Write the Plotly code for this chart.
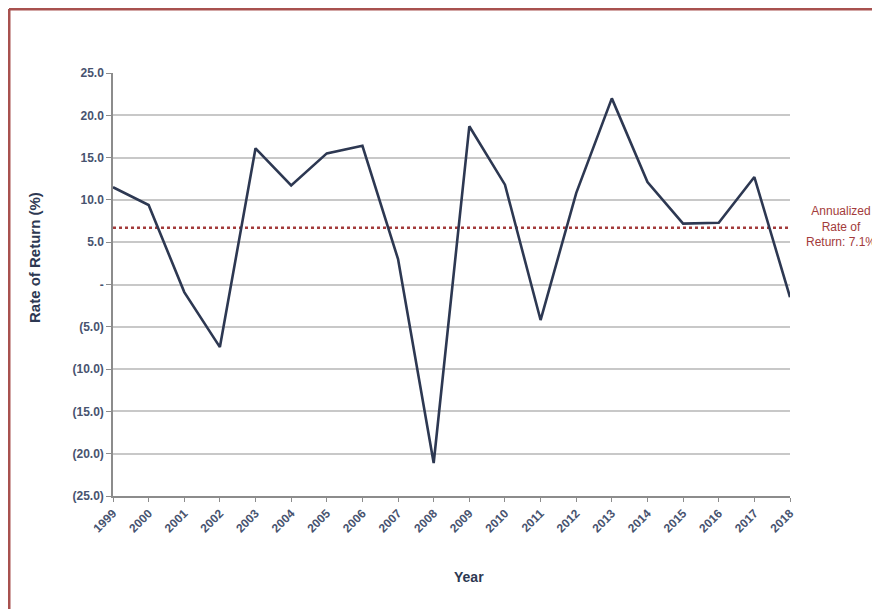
import plotly.graph_objects as go

years = [str(y) for y in range(1999, 2019)]
returns = [11.5, 9.4, -0.9, -7.4, 16.1, 11.7, 15.5, 16.4, 3.0, -21.1,
           18.7, 11.8, -4.2, 10.8, 22.0, 12.1, 7.2, 7.3, 12.7, -1.5]
annualized_level = 6.7
annualized_label = "Annualized<br>Rate of<br>Return: 7.1%"
ytick_vals = [25, 20, 15, 10, 5, 0, -5, -10, -15, -20, -25]
ytick_text = ["25.0", "20.0", "15.0", "10.0", "5.0", "-", "(5.0)", "(10.0)",
              "(15.0)", "(20.0)", "(25.0)"]

OFF = 8  # browser body margin
W, H = 880 - OFF, 609 - OFF
L, T = 113 - OFF, 73 - OFF
R = W - (790 - OFF)
B = H - (496 - OFF)
pw, ph = W - L - R, H - T - B

def px(x):
    return (x - OFF - L) / pw

def py(y):
    return (H - B - (y - OFF)) / ph

navy = "#2d3852"
label_col = "#47536f"
red = "#a33b3b"
font_fam = "Liberation Sans, Arial"

fig = go.Figure()
fig.add_trace(go.Scatter(x=years, y=[annualized_level] * len(years), mode="lines",
                         line=dict(color=red, width=2.5, dash="dot"),
                         hoverinfo="skip", showlegend=False))
fig.add_trace(go.Scatter(x=years, y=returns, mode="lines",
                         line=dict(color=navy, width=2.6),
                         showlegend=False))

border = "#a8514f"
fig.add_shape(type="line", xref="paper", yref="paper",
              x0=px(9), x1=px(9), y0=py(615), y1=py(9),
              line=dict(color=border, width=3))
fig.add_shape(type="line", xref="paper", yref="paper",
              x0=px(9), x1=px(890), y0=py(9), y1=py(9),
              line=dict(color=border, width=3))

fig.add_annotation(text=annualized_label, xref="paper", yref="paper",
                   x=px(878), y=py(226), xanchor="right", yanchor="middle",
                   showarrow=False, align="center",
                   font=dict(family=font_fam, size=12, color=red))
fig.add_annotation(text="<b>Rate of Return (%)</b>", xref="paper", yref="paper",
                   x=px(35), y=py(258), xanchor="center", yanchor="middle",
                   textangle=-90, showarrow=False,
                   font=dict(family=font_fam, size=15, color=navy))
fig.add_annotation(text="<b>Year</b>", xref="paper", yref="paper",
                   x=px(469), y=py(577), xanchor="center", yanchor="middle",
                   showarrow=False,
                   font=dict(family=font_fam, size=14, color=navy))

fig.update_layout(
    width=W, height=H,
    margin=dict(l=L, r=R, t=T, b=B),
    paper_bgcolor="white", plot_bgcolor="white",
    font=dict(family=font_fam, color=label_col),
    xaxis=dict(type="category", range=[0, 19], tickangle=-45,
               tickvals=years, ticktext=["<b>%s</b>" % y for y in years],
               showgrid=False, showline=True, linecolor="#8c8c8c", linewidth=1.5,
               ticks="outside", ticklen=4, tickcolor="#8c8c8c",
               tickfont=dict(size=12, color=label_col)),
    yaxis=dict(range=[-25, 25], tickvals=ytick_vals,
               ticktext=["<b>%s</b>" % t for t in ytick_text],
               showgrid=True, gridcolor="#c8c8c8", gridwidth=1.5,
               zeroline=False, showline=True, linecolor="#8c8c8c", linewidth=1.5,
               ticks="outside", ticklen=5, tickcolor="#8c8c8c",
               tickfont=dict(size=12, color=label_col)),
)

fig.write_html("out.html")
